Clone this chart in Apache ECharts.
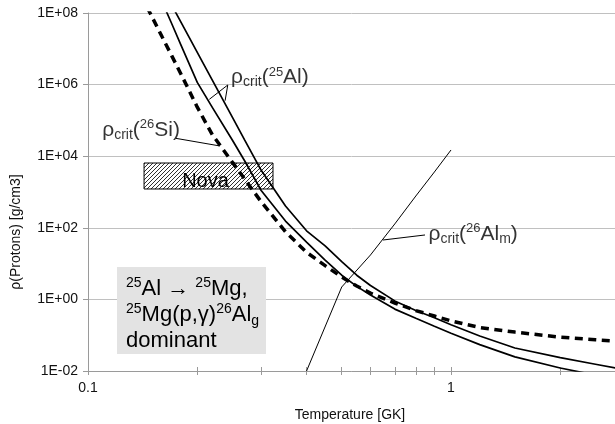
<!DOCTYPE html>
<html><head><meta charset="utf-8">
<script src="https://cdn.jsdelivr.net/npm/echarts@6/dist/echarts.min.js"></script>
<style>html,body{margin:0;padding:0;background:#fff;overflow:hidden}#c{width:615px;height:424px}</style>
</head><body><div id="c"></div>
<script>
// ---- data (temperature in GK, density in g/cm3) ----
const temperatures = [0.14,0.15,0.16,0.17,0.18,0.19,0.2,0.22,0.25,0.27,0.3,0.35,0.4,0.45,0.5,0.55,0.6,0.7,0.8,0.9,1.0,1.2,1.5,2.0,2.5,3.0];
const rhoCritSi26  = [3.12e8,7.89e7,2.16e7,6.46e6,2.04e6,6.79e5,2.34e5,3.99e4,6.71e3,2.31e3,532,77.3,20.7,8.79,4.20,2.36,1.50,0.793,0.486,0.344,0.251,0.164,0.122,0.0879,0.0745,0.0662];
const rhoCritAl25a = [null,null,2.06e8,5.09e7,1.33e7,3.81e6,1.15e6,2.31e5,2.78e4,7.45e3,1.10e3,154,39.9,12.5,4.74,2.31,1.32,0.536,0.298,0.178,0.113,0.0546,0.0248,0.0121,0.00767,null];
const rhoCritAl25b = [null,null,null,1.68e8,5.71e7,2.08e7,7.93e6,1.33e6,1.22e5,2.85e4,4.04e3,406,82.4,31.2,11.3,4.74,2.44,0.908,0.490,0.306,0.196,0.0951,0.0438,0.0237,0.0154,0.0109];
const alTemps      = [0.4,0.5,0.6,0.7,0.8,0.9,1.0];
const rhoCritAl26m = [0.01,2.22,17.4,128,773,3620,14900];

// ---- axis ticks / labels ----
const yTickValues = [0.01,1,100,1e4,1e6,1e8];
const xLabelValues = [0.1,1];
const xTickValues = [0.1,0.2,0.3,0.4,0.5,0.6,0.7,0.8,0.9,1,2];

// ---- annotation anchors (data coordinates) ----
const novaBox = [[0.1427,6457],[0.3233,1213]];
const infoBox = [[0.1202,8.03],[0.3093,0.0299]];
const labelAl25 = [0.247,1.58e6];
const labelSi26 = [0.1091,5.39e4];
const labelAl26m = [0.864,67.1];
const leaderAl25 = [[0.2159,3.88e5],[0.2427,9.75e5],[0.2386,3.55e5]];
const leaderSi26 = [[0.1744,3.16e4],[0.2310,1.93e4]];
const leaderAl26m = [[0.6498,45.6],[0.848,63.0]];

const FONT = "'Liberation Sans', Arial, sans-serif";
function pairs(xs, ys){ return xs.map((x,i)=> ys[i]==null ? null : [x, ys[i]]).filter(p=>p); }
function sci(v){ const e=Math.round(Math.log10(v)); return '1E'+(e<0?'-':'+')+String(Math.abs(e)).padStart(2,'0'); }
function hatch(){
  const c=document.createElement('canvas'); c.width=4; c.height=4;
  const g=c.getContext('2d'); g.strokeStyle='#1a1a1a'; g.lineWidth=0.9;
  g.beginPath(); g.moveTo(0,4); g.lineTo(4,0); g.moveTo(-1,1); g.lineTo(1,-1); g.moveTo(3,5); g.lineTo(5,3); g.stroke();
  return c;
}
const richLabel = {
  b:   {fontSize:21, lineHeight:24, color:'#000', fontFamily:FONT},
  sub: {fontSize:14, lineHeight:12, verticalAlign:'bottom', color:'#000', fontFamily:FONT},
  sup: {fontSize:13, lineHeight:13, verticalAlign:'top', color:'#000', fontFamily:FONT}
};
const richBox = {
  b:   {fontSize:22, lineHeight:26, color:'#000', fontFamily:FONT},
  sub: {fontSize:14, lineHeight:13, verticalAlign:'bottom', color:'#000', fontFamily:FONT},
  sup: {fontSize:14, lineHeight:14, verticalAlign:'top', color:'#000', fontFamily:FONT}
};
const leaderStyle = {color:'#000', width:1};
function leader(pts){ return {type:'line', data:pts, symbol:'none', silent:true, lineStyle:leaderStyle, z:4, animation:false}; }

const X_MAX = 2.83;
const chart = echarts.init(document.getElementById('c'));
chart.setOption({
  animation:false,
  textStyle:{fontFamily:FONT},
  grid:{left:88, right:0, top:13, bottom:53, containLabel:false},
  xAxis:[{
    type:'log', min:0.1, max:X_MAX, logBase:10,
    axisLine:{show:true, lineStyle:{color:'#9a9a9a', width:1}},
    axisTick:{show:true, length:4, inside:false, customValues:xTickValues, lineStyle:{color:'#9a9a9a'}},
    axisLabel:{customValues:xLabelValues, fontSize:14, color:'#111', margin:10, formatter:v=> (v===0.1?'0.1':String(v))},
    splitLine:{show:false}, minorTick:{show:false}
  },{
    type:'log', min:0.1, max:X_MAX, logBase:10, position:'bottom', offset:0,
    axisLine:{show:false},
    axisTick:{show:true, length:4, inside:true, customValues:xTickValues, lineStyle:{color:'#9a9a9a'}},
    axisLabel:{show:false}, splitLine:{show:false}
  }],
  yAxis:{
    type:'log', min:0.01, max:1e8, logBase:10,
    axisLine:{show:true, lineStyle:{color:'#9a9a9a', width:1}},
    axisTick:{show:true, length:5, customValues:yTickValues, lineStyle:{color:'#9a9a9a'}},
    axisLabel:{customValues:yTickValues, fontSize:14, color:'#111', margin:10, formatter:sci},
    splitLine:{show:true, lineStyle:{color:'#c0c0c0', width:1}}
  },
  graphic:[
    {type:'text', x:350, y:415, silent:true, style:{text:'Temperature [GK]', fontSize:14, fill:'#111', align:'center', verticalAlign:'middle', fontFamily:FONT}},
    {type:'text', x:16, y:232, rotation:Math.PI/2, silent:true, style:{text:'ρ(Protons) [g/cm3]', fontSize:14, fill:'#111', align:'center', verticalAlign:'middle', fontFamily:FONT}}
  ],
  series:[
    {
      name:'annotations', type:'scatter', z:1, silent:true, clip:false,
      symbolSize:1, itemStyle:{color:'rgba(0,0,0,0)'},
      data:[
        {value:labelAl25, label:{show:true, position:'right', distance:0, formatter:'{b|ρ}{sub|crit}{b|(}{sup|25}{b|Al)}', rich:richLabel}},
        {value:labelSi26, label:{show:true, position:'right', distance:0, formatter:'{b|ρ}{sub|crit}{b|(}{sup|26}{b|Si)}', rich:richLabel}},
        {value:labelAl26m, label:{show:true, position:'right', distance:0, formatter:'{b|ρ}{sub|crit}{b|(}{sup|26}{b|Al}{sub|m}{b|)}', rich:richLabel}}
      ],
      markArea:{
        silent:true,
        data:[
          [{coord:novaBox[0], itemStyle:{color:{image:hatch(), repeat:'repeat'}, borderColor:'#000', borderWidth:1},
            label:{show:true, position:'inside', offset:[-3,5], formatter:'Nova', fontSize:20, color:'#000', fontFamily:FONT}},
           {coord:novaBox[1]}],
          [{coord:infoBox[0], itemStyle:{color:'#e3e3e3', borderWidth:0},
            label:{show:true, position:'insideTopLeft', distance:9,
              formatter:'{sup|25}{b|Al → }{sup|25}{b|Mg,}\n{sup|25}{b|Mg(p,γ)}{sup|26}{b|Al}{sub|g}\n{b|dominant}', rich:richBox}},
           {coord:infoBox[1]}]
        ]
      }
    },
    {name:'ρcrit(26Si)', type:'line', data:pairs(temperatures, rhoCritSi26), symbol:'none', silent:true, z:3,
      lineStyle:{color:'#000', width:3.5, type:[8,5.5], cap:'butt'}},
    {name:'ρcrit(25Al) a', type:'line', data:pairs(temperatures, rhoCritAl25a), symbol:'none', silent:true, z:3,
      lineStyle:{color:'#000', width:1.7}},
    {name:'ρcrit(25Al) b', type:'line', data:pairs(temperatures, rhoCritAl25b), symbol:'none', silent:true, z:3,
      lineStyle:{color:'#000', width:1.7}},
    {name:'ρcrit(26Alm)', type:'line', data:pairs(alTemps, rhoCritAl26m), symbol:'none', silent:true, z:3,
      lineStyle:{color:'#000', width:1}},
    leader(leaderAl25), leader(leaderSi26), leader(leaderAl26m)
  ]
});
</script></body></html>
